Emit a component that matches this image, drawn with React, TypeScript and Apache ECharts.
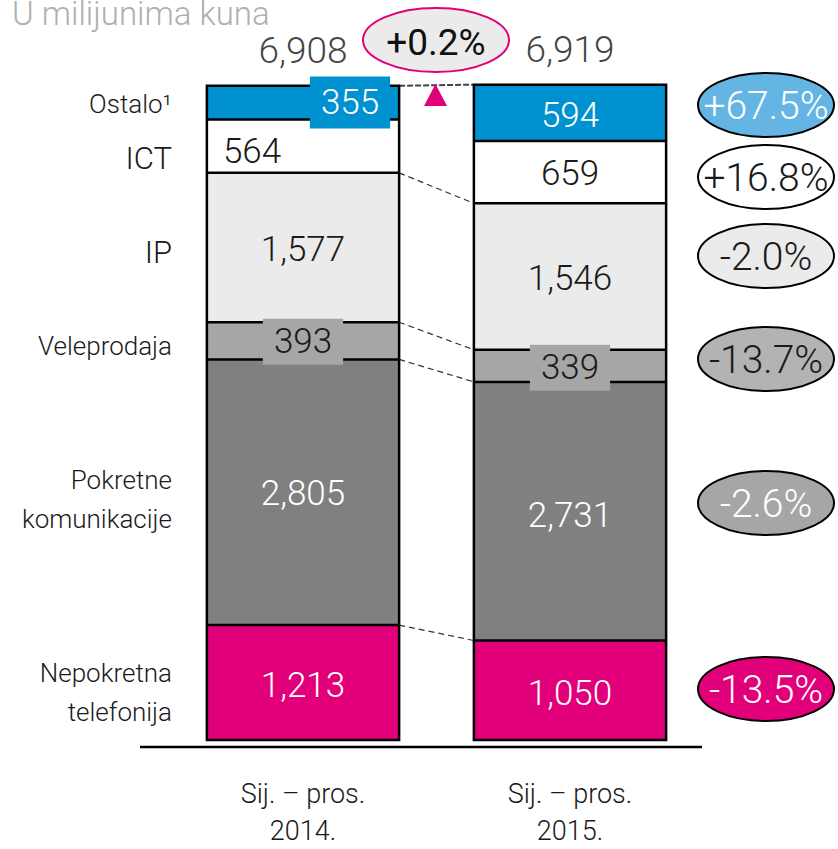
import React, { useEffect, useRef } from "react";
import * as echarts from "echarts";

const categories = ["Sij. – pros.\n2014.", "Sij. – pros.\n2015."];
const segmentNames = ["Nepokretna\ntelefonija", "Pokretne\nkomunikacije", "Veleprodaja", "IP", "ICT", "Ostalo¹"];
const nepokretna = [1213, 1050];
const pokretne = [2805, 2731];
const veleprodaja = [393, 339];
const ip = [1577, 1546];
const ict = [564, 659];
const ostalo = [355, 594];
const totals = [6908, 6919];
const changes = ["-13.5%", "-2.6%", "-13.7%", "-2.0%", "+16.8%", "+67.5%"];
const totalChange = "+0.2%";
const title = "U milijunima kuna";

const FONT = "Roboto, 'Liberation Sans', sans-serif";
const W = 300;
const MAGENTA = "#E2007A";
const BLUE = "#0091D0";
const BAR_FRAC = 0.72;

const fmt = (v: number) => v.toLocaleString("en-US");

export default function App() {
  const ref = useRef<HTMLDivElement>(null);
  useEffect(() => {
    if (!ref.current) return;
    const chart = echarts.init(ref.current, undefined, { renderer: "svg" });

    const seriesValues = [nepokretna, pokretne, veleprodaja, ip, ict, ostalo];
    const colors = [MAGENTA, "#808080", "#A6A6A6", "#EBEBEB", "#FFFFFF", BLUE];
    const textColors = ["#fff", "#fff", "#1a1a1a", "#1a1a1a", "#1a1a1a", "#fff"];
    const labelTweaks: any[][] = [
      [{ offset: [0, 3] }, { offset: [0, 3] }],
      [{ offset: [0, 1] }, { offset: [0, 4] }],
      [
        { offset: [0, 1], backgroundColor: "#A6A6A6", padding: [4, 11, 4, 11] },
        { offset: [0, 2], backgroundColor: "#A6A6A6", padding: [4, 11, 4, 11] },
      ],
      [{ offset: [0, 2] }, { offset: [0, 2] }],
      [{ offset: [-51, 5] }, { offset: [0, 1] }],
      [{ offset: [47, 0], backgroundColor: BLUE, padding: [7, 11, 7, 11] }, { offset: [0, 3] }],
    ];

    const cum: number[][] = [];
    let acc = [0, 0];
    seriesValues.forEach((vals) => {
      acc = [acc[0] + vals[0], acc[1] + vals[1]];
      cum.push([acc[0], acc[1]]);
    });
    const connectorIdx = [0, 1, 2, 3, 5];
    const connectorData = connectorIdx.map((i) => [0, cum[i][0], cum[i][1], i === 5 ? 1 : 0]);
    const outlineData = [0, 1].map((b) => [b, ...cum.map((c) => c[b])]);

    const fillSeries = seriesValues.map((vals, si) => ({
      type: "bar",
      name: segmentNames[si],
      stack: "fill",
      barWidth: "72%",
      barGap: "-100%",
      z: 2,
      itemStyle: { color: colors[si], borderWidth: 0 },
      data: vals,
    }));
    const labelSeries = seriesValues.map((vals, si) => ({
      type: "bar",
      name: segmentNames[si] + " label",
      stack: "label",
      barWidth: "72%",
      barGap: "-100%",
      z: 4,
      itemStyle: { color: "rgba(0,0,0,0)", borderWidth: 0 },
      label: {
        show: true,
        position: "inside",
        formatter: (p: any) => fmt(p.value),
        fontFamily: FONT,
        fontWeight: W,
        fontSize: 35,
        lineHeight: 38,
        color: textColors[si],
      },
      data: vals.map((v, bi) => ({ value: v, label: labelTweaks[si][bi] })),
    }));

    const rightBadges = [
      { cy: 689, fill: MAGENTA, color: "#fff" },
      { cy: 503, fill: "#A6A6A6", color: "#fff" },
      { cy: 359, fill: "#B3B3B3", color: "#1a1a1a" },
      { cy: 256, fill: "#EBEBEB", color: "#1a1a1a" },
      { cy: 177, fill: "#FFFFFF", color: "#1a1a1a" },
      { cy: 105, fill: "#64B5E4", color: "#fff" },
    ];
    const leftLabelY = [692, 499, 346, 252, 158, 104];
    const leftLabelSize = [26, 26, 26, 31, 31, 26];

    const graphic: any[] = [
      {
        type: "text",
        left: 12,
        top: -3,
        style: { text: title, fontFamily: FONT, fontWeight: W, fontSize: 33, fill: "#AFAFAF" },
      },
      {
        type: "line",
        shape: { x1: 140, y1: 747, x2: 702, y2: 747 },
        style: { stroke: "#000", lineWidth: 2.5 },
        z: 10,
      },
      {
        type: "ellipse",
        shape: { cx: 436, cy: 40, rx: 73, ry: 32 },
        style: { fill: "#EBEBEB", stroke: MAGENTA, lineWidth: 2 },
      },
      {
        type: "text",
        x: 436,
        y: 42,
        style: {
          text: totalChange,
          fontFamily: FONT,
          fontWeight: 400,
          fontSize: 37,
          fill: "#111",
          align: "center",
          verticalAlign: "middle",
        },
        z: 5,
      },
      {
        type: "polygon",
        shape: { points: [[435.5, 84], [424, 106], [447, 106]] },
        style: { fill: MAGENTA },
        z: 5,
      },
    ];
    rightBadges.forEach((b, i) => {
      graphic.push({
        type: "ellipse",
        shape: { cx: 766, cy: b.cy, rx: 68, ry: 32 },
        style: { fill: b.fill, stroke: "#000", lineWidth: 2 },
      });
      graphic.push({
        type: "text",
        x: 766,
        y: b.cy + 1,
        style: {
          text: changes[i],
          fontFamily: FONT,
          fontWeight: W,
          fontSize: 39,
          fill: b.color,
          align: "center",
          verticalAlign: "middle",
        },
        z: 5,
      });
    });
    segmentNames.forEach((n, i) => {
      graphic.push({
        type: "text",
        x: 172,
        y: leftLabelY[i],
        style: {
          text: n,
          fontFamily: FONT,
          fontWeight: W,
          fontSize: leftLabelSize[i],
          lineHeight: 39,
          fill: "#1a1a1a",
          align: "right",
          verticalAlign: "middle",
        },
      });
    });

    chart.setOption({
      animation: false,
      grid: { left: 169.5, width: 534, top: 77, height: 670, containLabel: false },
      xAxis: {
        type: "category",
        data: categories,
        axisLine: { show: false },
        axisTick: { show: false },
        axisLabel: {
          fontFamily: FONT,
          fontWeight: W,
          fontSize: 27,
          lineHeight: 37,
          color: "#1a1a1a",
          margin: 35,
        },
      },
      yAxis: {
        type: "value",
        min: 0,
        max: 7000,
        show: false,
        splitLine: { show: false },
      },
      graphic,
      series: [
        ...fillSeries,
        {
          type: "custom",
          name: "outline",
          encode: { x: 0, y: 1 },
          z: 3,
          renderItem: (params: any, api: any) => {
            const x = api.value(0);
            const w = api.size([1, 0])[0] * BAR_FRAC;
            const base = api.coord([x, 0]);
            const n = seriesValues.length;
            const topY = api.coord([x, api.value(n)])[1];
            const children: any[] = [
              {
                type: "rect",
                shape: { x: base[0] - w / 2, y: topY, width: w, height: base[1] - topY },
                style: { fill: "none", stroke: "#000", lineWidth: 2.5 },
              },
            ];
            for (let k = 1; k < n; k++) {
              const y = api.coord([x, api.value(k)])[1];
              children.push({
                type: "line",
                shape: { x1: base[0] - w / 2, y1: y, x2: base[0] + w / 2, y2: y },
                style: { stroke: "#000", lineWidth: 2.5 },
              });
            }
            return { type: "group", children };
          },
          data: outlineData,
        },
        ...labelSeries,
        {
          type: "scatter",
          symbolSize: 1,
          itemStyle: { color: "rgba(0,0,0,0)" },
          label: {
            show: true,
            position: "top",
            distance: 16,
            formatter: (p: any) => fmt(p.value),
            fontFamily: FONT,
            fontWeight: W,
            fontSize: 37,
            color: "#111",
          },
          data: totals,
          z: 5,
        },
        {
          type: "custom",
          name: "connectors",
          encode: { x: 0, y: [1, 2] },
          renderItem: (params: any, api: any) => {
            const a = api.coord([0, api.value(1)]);
            const b = api.coord([1, api.value(2)]);
            const half = (api.size([1, 0])[0] * BAR_FRAC) / 2;
            const top = api.value(3) === 1;
            return {
              type: "line",
              shape: { x1: a[0] + half, y1: a[1], x2: b[0] - half, y2: b[1] },
              style: {
                stroke: top ? "#444" : "#333",
                lineWidth: top ? 2 : 1.2,
                lineDash: top ? [6, 2] : [6, 4],
              },
            };
          },
          data: connectorData,
          z: 1,
        },
      ],
    });
    return () => chart.dispose();
  }, []);
  return (
    <div
      ref={ref}
      style={{ position: "absolute", left: 0, top: 0, width: 838, height: 849 }}
    />
  );
}
